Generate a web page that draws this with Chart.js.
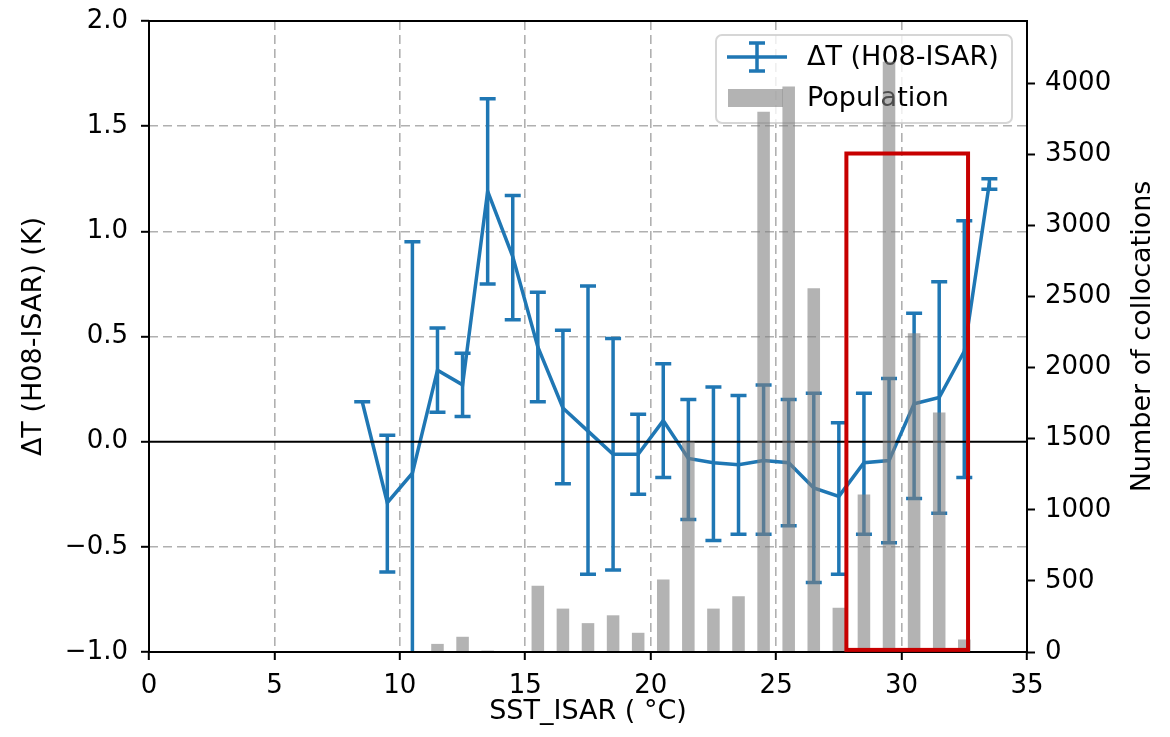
<!DOCTYPE html>
<html>
<head>
<meta charset="utf-8">
<script src="https://cdn.jsdelivr.net/npm/chart.js@4.4.0/dist/chart.umd.min.js"></script>
<style>
  html, body { margin: 0; padding: 0; background: #fff; }
</style>
</head>
<body>
<canvas id="chart" width="1170" height="737"></canvas>
<script>
// SST bins (deg C) of the mean difference curve
const sstBins = [8.5, 9.5, 10.5, 11.5, 12.5, 13.5, 14.5, 15.5, 16.5, 17.5, 18.5, 19.5, 20.5,
  21.5, 22.5, 23.5, 24.5, 25.5, 26.5, 27.5, 28.5, 29.5, 30.5, 31.5, 32.5, 33.5];
// mean dT (H08-ISAR) and the ends of its error bar, K
const dtMean = [0.19, -0.29, -0.15, 0.34, 0.27, 1.19, 0.88, 0.45, 0.16, 0.05, -0.06, -0.06, 0.10,
  -0.08, -0.10, -0.11, -0.09, -0.10, -0.22, -0.26, -0.10, -0.09, 0.18, 0.21, 0.43, 1.23];
const dtLow = [0.19, -0.62, -1.25, 0.14, 0.12, 0.75, 0.58, 0.19, -0.20, -0.63, -0.61, -0.25, -0.17,
  -0.37, -0.47, -0.44, -0.44, -0.40, -0.67, -0.63, -0.44, -0.48, -0.27, -0.34, -0.17, 1.20];
const dtHigh = [0.19, 0.03, 0.95, 0.54, 0.42, 1.63, 1.17, 0.71, 0.53, 0.74, 0.49, 0.13, 0.37,
  0.20, 0.26, 0.22, 0.27, 0.20, 0.23, 0.09, 0.23, 0.30, 0.61, 0.76, 1.05, 1.25];
// population histogram
const popBins = [11.5, 12.5, 13.5, 14.5, 15.5, 16.5, 17.5, 18.5, 19.5, 20.5, 21.5,
  22.5, 23.5, 24.5, 25.5, 26.5, 27.5, 28.5, 29.5, 30.5, 31.5, 32.5];
const popCount = [57, 107, 10, 0, 466, 305, 203, 258, 135, 510, 1480,
  305, 392, 3798, 3975, 2557, 311, 1108, 4150, 2240, 1684, 88];
// right axis tick labels
const popTicks = [0, 500, 1000, 1500, 2000, 2500, 3000, 3500, 4000];
// highlighted SST range (red box), in x / left axis units
const boxSst = [27.8, 32.65];
const boxDt = [-0.99, 1.37];

const blue = "#1f77b4";
const barGray = "rgba(128,128,128,0.6)";
const gridGray = "#b0b0b0";

Chart.defaults.font.family = "DejaVu Sans";
Chart.defaults.color = "#000";

//no extra room for half tick labels, the sizes are fixed below
const noPad = (s) => { s.paddingTop = 0; s.paddingBottom = 0; s.paddingLeft = 0; s.paddingRight = 0; };

//draws error bars, zero line, legend, frame, red box and right title
const overlay = {
  id: "overlay",
  afterDatasetDraw(chart, args) {
    if (args.index !== 0) return;
    const { ctx, chartArea: ca, scales } = chart;
    ctx.save();
    ctx.beginPath();
    ctx.rect(ca.left, ca.top, ca.right - ca.left, ca.bottom - ca.top);
    ctx.clip();
    ctx.strokeStyle = blue;
    ctx.lineWidth = 3.5;
    for (let i = 0; i < sstBins.length; i++) {
      const x = scales.x.getPixelForValue(sstBins[i]);
      const y1 = scales.y.getPixelForValue(dtLow[i]);
      const y2 = scales.y.getPixelForValue(dtHigh[i]);
      ctx.beginPath();
      ctx.moveTo(x, y1); ctx.lineTo(x, y2);
      ctx.moveTo(x - 8, y1); ctx.lineTo(x + 8, y1);
      ctx.moveTo(x - 8, y2); ctx.lineTo(x + 8, y2);
      ctx.stroke();
    }
    ctx.restore();
  },
  beforeDatasetDraw(chart, args) {
    if (args.index !== 1) return;
    const { ctx, chartArea: ca, scales } = chart;
    //zero line
    const y0 = scales.y.getPixelForValue(0);
    ctx.save();
    ctx.strokeStyle = "#000";
    ctx.lineWidth = 2;
    ctx.beginPath();
    ctx.moveTo(ca.left, y0); ctx.lineTo(ca.right, y0);
    ctx.stroke();
    //legend (sits under the bars, like the twin axis)
    const w = 296, h = 88;
    const lx = ca.right - 15 - w, ly = ca.top + 14, r = 6;
    ctx.beginPath();
    ctx.moveTo(lx + r, ly);
    ctx.arcTo(lx + w, ly, lx + w, ly + h, r);
    ctx.arcTo(lx + w, ly + h, lx, ly + h, r);
    ctx.arcTo(lx, ly + h, lx, ly, r);
    ctx.arcTo(lx, ly, lx + w, ly, r);
    ctx.closePath();
    ctx.fillStyle = "rgba(255,255,255,0.8)";
    ctx.fill();
    ctx.strokeStyle = "rgba(204,204,204,0.8)";
    ctx.lineWidth = 2;
    ctx.stroke();
    ctx.strokeStyle = blue;
    ctx.lineWidth = 3.5;
    const ix = lx + 41, iy = ly + 22;
    ctx.beginPath();
    ctx.moveTo(lx + 11, iy); ctx.lineTo(lx + 71, iy);
    ctx.moveTo(ix, iy - 14); ctx.lineTo(ix, iy + 14);
    ctx.moveTo(ix - 8, iy - 14); ctx.lineTo(ix + 8, iy - 14);
    ctx.moveTo(ix - 8, iy + 14); ctx.lineTo(ix + 8, iy + 14);
    ctx.stroke();
    ctx.fillStyle = barGray;
    ctx.fillRect(lx + 12, ly + 54, 55, 18);
    ctx.fillStyle = "#000";
    ctx.font = "27px 'DejaVu Sans'";
    ctx.textBaseline = "middle";
    ctx.textAlign = "left";
    ctx.fillText("\u0394T (H08-ISAR)", lx + 91, iy + 1);
    ctx.fillText("Population", lx + 91, ly + 64);
    ctx.restore();
  },
  afterDraw(chart) {
    const { ctx, chartArea: ca, scales } = chart;
    ctx.save();
    //frame
    ctx.strokeStyle = "#000";
    ctx.lineWidth = 2;
    ctx.strokeRect(ca.left, ca.top, ca.right - ca.left, ca.bottom - ca.top);
    //highlight box
    const bx1 = scales.x.getPixelForValue(boxSst[0]);
    const bx2 = scales.x.getPixelForValue(boxSst[1]);
    const by1 = scales.y.getPixelForValue(boxDt[1]);
    const by2 = scales.y.getPixelForValue(boxDt[0]);
    ctx.strokeStyle = "#c70000";
    ctx.lineWidth = 4;
    ctx.strokeRect(bx1, by1, bx2 - bx1, by2 - by1);
    //right axis title, reads bottom to top
    ctx.translate(1143, (ca.top + ca.bottom) / 2);
    ctx.rotate(-Math.PI / 2);
    ctx.fillStyle = "#000";
    ctx.font = "27px 'DejaVu Sans'";
    ctx.textAlign = "center";
    ctx.textBaseline = "middle";
    ctx.fillText("Number of collocations", 0, 0);
    ctx.restore();
  },
};

const tickFont = { size: 26 };
const titleFont = { size: 27 };

new Chart(document.getElementById("chart"), {
  type: "line",
  plugins: [overlay],
  data: {
    datasets: [
      {
        type: "line",
        label: "\u0394T (H08-ISAR)",
        data: sstBins.map((x, i) => ({ x: x, y: dtMean[i] })),
        borderColor: blue,
        borderWidth: 3.5,
        pointRadius: 0,
        tension: 0,
        yAxisID: "y",
        order: 1,
      },
      {
        type: "bar",
        label: "Population",
        data: popBins.map((x, i) => ({ x: x, y: popCount[i] })),
        backgroundColor: barGray,
        borderWidth: 0,
        categoryPercentage: 1,
        barPercentage: 0.5,
        yAxisID: "y1",
        order: 0,
      },
    ],
  },
  options: {
    responsive: false,
    animation: false,
    devicePixelRatio: 1,
    layout: { padding: { top: 21, left: 0, right: 0, bottom: 0 } },
    plugins: { legend: { display: false }, tooltip: { enabled: false } },
    scales: {
      x: {
        type: "linear",
        min: 0,
        max: 35,
        offset: false,
        afterFit: (s) => { s.height = 85; noPad(s); },
        ticks: { stepSize: 5, font: tickFont, padding: 11, maxRotation: 0, callback: (v) => v },
        grid: { offset: false, color: gridGray, lineWidth: 1.6, tickColor: "#000", tickWidth: 2, tickLength: 8 },
        border: { display: false, dash: [9, 5] },
        title: { display: true, text: "SST_ISAR ( \u00b0C)", font: titleFont, padding: { top: 0, bottom: 9 } },
      },
      y: {
        type: "linear",
        position: "left",
        min: -1,
        max: 2,
        afterFit: (s) => { s.width = 149; noPad(s); },
        ticks: { stepSize: 0.5, font: tickFont, padding: 13, callback: (v) => v.toFixed(1).replace("-", "\u2212") },
        grid: {
          color: (c) => (c.tick && c.tick.value === 0 ? "rgba(0,0,0,0)" : gridGray),
          lineWidth: 1.6, tickColor: "#000", tickWidth: 2, tickLength: 8,
        },
        border: { display: false, dash: [9, 5] },
        title: { display: true, text: "\u0394T (H08-ISAR) (K)", font: titleFont, padding: { top: 18, bottom: 0 } },
      },
      y1: {
        type: "linear",
        position: "right",
        min: 0,
        max: 4436,
        afterFit: (s) => { s.width = 143; noPad(s); },
        afterBuildTicks: (s) => { s.ticks = popTicks.map((v) => ({ value: v })); },
        ticks: { font: tickFont, padding: 10, callback: (v) => String(v) },
        grid: { drawOnChartArea: false, tickColor: "#000", tickWidth: 2, tickLength: 8 },
        border: { display: false },
      },
    },
  },
});
</script>
</body>
</html>
